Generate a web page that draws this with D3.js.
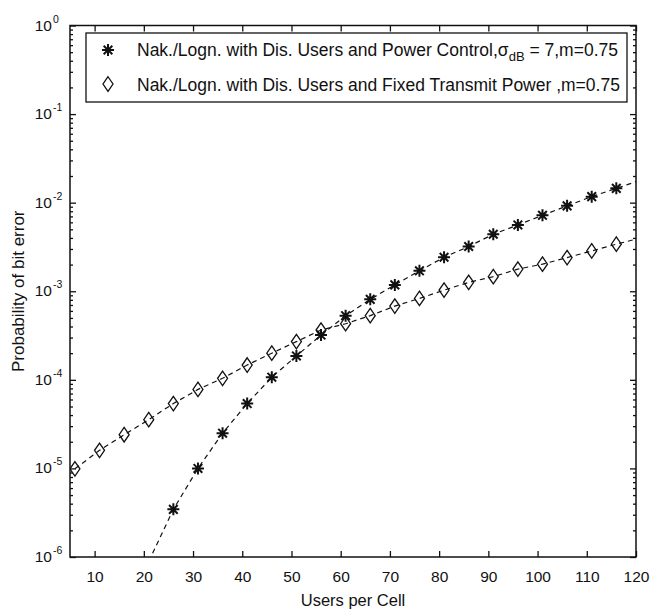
<!DOCTYPE html>
<html><head><meta charset="utf-8">
<script src="https://cdn.jsdelivr.net/npm/d3@7"></script>
<style>
body{margin:0;background:#fff;}
text{font-family:"Liberation Sans",Arial,sans-serif;fill:#111;}
</style></head>
<body><svg id="c" width="650" height="613"></svg>
<script>
const usersPC = [21, 26, 31, 36, 41, 46, 51, 56, 61, 66, 71, 76, 81, 86, 91, 96, 101, 106, 111, 116, 121];
const berPC = [8.9e-7, 3.45e-6, 1.0e-5, 2.5e-5, 5.4e-5, 1.07e-4, 1.86e-4, 3.2e-4, 5.3e-4, 8.1e-4, 1.18e-3, 1.7e-3, 2.42e-3, 3.2e-3, 4.4e-3, 5.6e-3, 7.2e-3, 9.2e-3, 1.17e-2, 1.45e-2, 1.8e-2];
const usersFP = [6, 11, 16, 21, 26, 31, 36, 41, 46, 51, 56, 61, 66, 71, 76, 81, 86, 91, 96, 101, 106, 111, 116, 121];
const berFP = [9.9e-6, 1.6e-5, 2.4e-5, 3.55e-5, 5.4e-5, 7.8e-5, 1.04e-4, 1.47e-4, 2.0e-4, 2.7e-4, 3.65e-4, 4.3e-4, 5.3e-4, 6.8e-4, 8.3e-4, 1.03e-3, 1.26e-3, 1.46e-3, 1.78e-3, 2.02e-3, 2.4e-3, 2.85e-3, 3.4e-3, 4.0e-3];
const xTicks = [10, 20, 30, 40, 50, 60, 70, 80, 90, 100, 110, 120];
const yExponents = [0, -1, -2, -3, -4, -5, -6];
const legendLabels = ["Nak./Logn. with Dis. Users and Power Control,", "Nak./Logn. with Dis. Users and Fixed Transmit Power ,m=0.75"];

const svg = d3.select("#c");
const L = 70, R = 636, T = 25.5, B = 557;
const x = d3.scaleLinear().domain([5, 120]).range([L, R]);
const y = d3.scaleLog().domain([1e-6, 1]).range([B, T]);

const majors = yExponents.map(e => Math.pow(10, e));
const minors = [];
for (let e = -6; e < 0; e++) for (let k = 2; k <= 9; k++) minors.push(k * Math.pow(10, e));

svg.append("defs").append("clipPath").attr("id", "clip")
  .append("rect").attr("x", L).attr("y", T).attr("width", R - L).attr("height", B - T);

function styleAxis(g) {
  g.select(".domain").remove();
  g.selectAll("line").attr("stroke", "#111").attr("stroke-width", 1.3);
}
// bottom
svg.append("g").attr("transform", `translate(0,${B})`)
  .call(d3.axisBottom(x).tickValues(xTicks).tickSizeInner(-6).tickSizeOuter(0).tickPadding(14).tickFormat(d3.format("d")))
  .call(styleAxis)
  .call(g => g.selectAll("text").attr("font-size", 15.5).attr("fill", "#111").attr("font-family", "Liberation Sans, Arial, sans-serif"));
// top
svg.append("g").attr("transform", `translate(0,${T})`)
  .call(d3.axisTop(x).tickValues(xTicks).tickSizeInner(-6).tickSizeOuter(0).tickFormat(""))
  .call(styleAxis);
// left major + minor
svg.append("g").attr("transform", `translate(${L},0)`)
  .call(d3.axisLeft(y).tickValues(majors).tickSizeInner(-6).tickSizeOuter(0).tickFormat(""))
  .call(styleAxis);
svg.append("g").attr("transform", `translate(${L},0)`)
  .call(d3.axisLeft(y).tickValues(minors).tickSizeInner(-3).tickSizeOuter(0).tickFormat(""))
  .call(styleAxis);
svg.append("g").attr("transform", `translate(${R},0)`)
  .call(d3.axisRight(y).tickValues(majors).tickSizeInner(-6).tickSizeOuter(0).tickFormat(""))
  .call(styleAxis);
svg.append("g").attr("transform", `translate(${R},0)`)
  .call(d3.axisRight(y).tickValues(minors).tickSizeInner(-3).tickSizeOuter(0).tickFormat(""))
  .call(styleAxis);

// y tick labels
yExponents.forEach(e => {
  svg.append("text").attr("x", 52).attr("y", y(Math.pow(10, e)) + 5)
    .attr("text-anchor", "end").attr("font-size", 15.5).text("10");
  svg.append("text").attr("x", 53).attr("y", y(Math.pow(10, e)) - 3)
    .attr("font-size", 10.5).text(String(e));
});

// frame
svg.append("rect").attr("x", L).attr("y", T).attr("width", R - L).attr("height", B - T)
  .attr("fill", "none").attr("stroke", "#111").attr("stroke-width", 1.5);

// axis labels
svg.append("text").attr("x", (L + R) / 2).attr("y", 606).attr("text-anchor", "middle")
  .attr("font-size", 16.5).text("Users per Cell");
svg.append("text").attr("transform", `translate(24,${(T + B) / 2}) rotate(-90)`)
  .attr("text-anchor", "middle").attr("font-size", 17).text("Probability of bit error");

// marker shapes
const starSym = { draw(ctx, size) { const r = Math.sqrt(size) / 2, d = r * 0.72;
  ctx.moveTo(-r, 0); ctx.lineTo(r, 0); ctx.moveTo(0, -r); ctx.lineTo(0, r);
  ctx.moveTo(-d, -d); ctx.lineTo(d, d); ctx.moveTo(-d, d); ctx.lineTo(d, -d); } };
const diamondSym = { draw(ctx, size) { const w = Math.sqrt(size) / 2, h = w * 1.45;
  ctx.moveTo(0, -h); ctx.lineTo(w, 0); ctx.lineTo(0, h); ctx.lineTo(-w, 0); ctx.closePath(); } };
const starPath = d3.symbol().type(starSym).size(144)();
const diamondPath = d3.symbol().type(diamondSym).size(100)();

const plot = svg.append("g").attr("clip-path", "url(#clip)");
const line = d3.line().x(d => x(d[0])).y(d => y(d[1]));
const pc = usersPC.map((u, i) => [u, berPC[i]]);
const fp = usersFP.map((u, i) => [u, berFP[i]]);
[pc, fp].forEach(data => plot.append("path").datum(data).attr("d", line)
  .attr("fill", "none").attr("stroke", "#111").attr("stroke-width", 1.2).attr("stroke-dasharray", "5,4"));

plot.selectAll(".fp").data(fp.filter(d => d[0] <= 120)).join("path")
  .attr("transform", d => `translate(${x(d[0])},${y(d[1])})`).attr("d", diamondPath)
  .attr("fill", "none").attr("stroke", "#111").attr("stroke-width", 1.3);
plot.selectAll(".pc").data(pc.filter(d => d[0] <= 120 && d[1] >= 1e-6)).join("path")
  .attr("transform", d => `translate(${x(d[0])},${y(d[1])})`).attr("d", starPath)
  .attr("fill", "none").attr("stroke", "#111").attr("stroke-width", 2);

// legend
const lg = svg.append("g");
lg.append("rect").attr("x", 86).attr("y", 33).attr("width", 541).attr("height", 69)
  .attr("fill", "#fff").attr("stroke", "#111").attr("stroke-width", 1.3);
lg.append("path").attr("transform", "translate(108,50)").attr("d", starPath)
  .attr("fill", "none").attr("stroke", "#111").attr("stroke-width", 2);
lg.append("path").attr("transform", "translate(108,84)").attr("d", diamondPath)
  .attr("fill", "none").attr("stroke", "#111").attr("stroke-width", 1.3);
const t1 = lg.append("text").attr("x", 137).attr("y", 56).attr("font-size", 17.5);
t1.append("tspan").text(legendLabels[0]);
t1.append("tspan").text("σ");
t1.append("tspan").attr("font-size", 13).attr("dy", 5).text("dB");
t1.append("tspan").attr("dy", -5).text(" = 7,m=0.75");
lg.append("text").attr("x", 137).attr("y", 91).attr("font-size", 17.5).text(legendLabels[1]);
</script></body></html>
